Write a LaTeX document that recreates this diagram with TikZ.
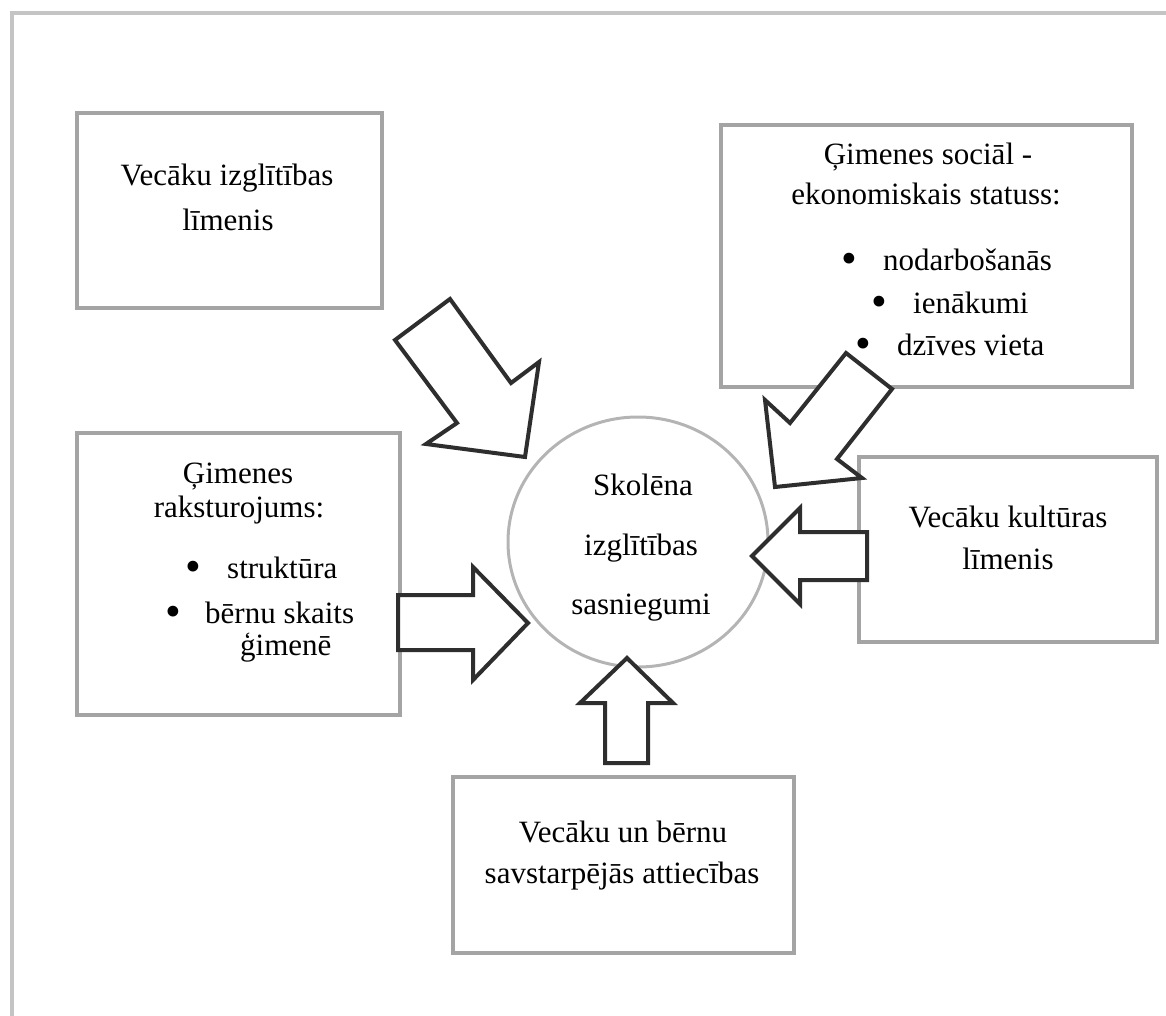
\documentclass[tikz,border=0pt]{standalone}
\usepackage{fontspec}
\setmainfont{Liberation Serif}
\definecolor{boxgray}{HTML}{A4A4A4}
\definecolor{framegray}{HTML}{C4C4C4}
\definecolor{circgray}{HTML}{B4B4B4}
\definecolor{arrowdark}{HTML}{2E2E2E}
\usetikzlibrary{shapes.geometric}
\newcommand{\bigbul}{\scalebox{1.45}{\textbullet}}
\begin{document}
\begin{tikzpicture}[x=1pt,y=-1pt,
  box/.style={draw=boxgray, line width=4pt, rectangle, inner sep=0pt},
  txt/.style={inner sep=0pt, anchor=base, font=\fontsize{31}{37}\selectfont},
  ltxt/.style={inner sep=0pt, anchor=base west, font=\fontsize{31}{37}\selectfont},
  bul/.style={inner sep=0pt, anchor=west, font=\fontsize{31}{37}\selectfont},
  blockarrow/.style={draw=arrowdark, line width=4pt, fill=white, line join=miter}
]
\path[use as bounding box] (0,0) rectangle (1166,1016);
\draw[framegray, line width=4pt] (1172,13) -- (12,13) -- (12,1022);

% centre
\node[ellipse, draw=circgray, line width=3pt, minimum width=260, minimum height=250] (centre) at (638,542) {};
\node[txt] (c1) at (643,495) {Skolēna};
\node[txt] (c2) at (641,555) {izglītības};
\node[txt] (c3) at (641,614) {sasniegumi};

% boxes
\node[box, minimum width=305, minimum height=195] (edu) at (229.5,210.5) {};
\node[txt] (edu1) at (227,186) {Vecāku izglītības};
\node[txt] (edu2) at (228,230) {līmenis};

\node[box, minimum width=411, minimum height=262] (ses) at (926.5,256) {};
\node[txt] (ses1) at (928,165) {Ģimenes sociāl -};
\node[txt] (ses2) at (926,205) {ekonomiskais statuss:};
\node[bul] (sesb1) at (841,263) {\bigbul};
\node[ltxt] (sest1) at (883,270) {nodarbošanās};
\node[bul] (sesb2) at (871,306) {\bigbul};
\node[ltxt] (sest2) at (913,313) {ienākumi};
\node[bul] (sesb3) at (855,348) {\bigbul};
\node[ltxt] (sest3) at (897,355) {dzīves vieta};

\node[box, minimum width=323, minimum height=282] (fam) at (238.5,574) {};
\node[txt] (fam1) at (238,483) {Ģimenes};
\node[txt] (fam2) at (239,517) {raksturojums:};
\node[bul] (famb1) at (185,571) {\bigbul};
\node[ltxt] (famt1) at (227,578) {struktūra};
\node[bul] (famb2) at (165,616) {\bigbul};
\node[ltxt] (famt2) at (205,623) {bērnu skaits};
\node[ltxt] (famt3) at (240,655) {ģimenē};

\node[box, minimum width=341, minimum height=176] (rel) at (623.5,865) {};
\node[txt] (rel1) at (623,842) {Vecāku un bērnu};
\node[txt] (rel2) at (622,883) {savstarpējās attiecības};

\node[box, minimum width=298, minimum height=185] (cul) at (1008,549.5) {};
\node[txt] (cul1) at (1008,527) {Vecāku kultūras};
\node[txt] (cul2) at (1008,569) {līmenis};

% block arrows
\draw[blockarrow] (395,340) -- (450,299) -- (511,383) -- (539,362) -- (525,457) -- (426,444) -- (457,423) -- cycle;
\draw[blockarrow] (846,353) -- (892,389) -- (837,459) -- (862,478) -- (775,487) -- (765,400) -- (790,423) -- cycle;
\draw[blockarrow] (398,595) -- (473,595) -- (473,567) -- (528,623) -- (473,680) -- (473,650) -- (398,650) -- cycle;
\draw[blockarrow] (867,532) -- (800,532) -- (800,508) -- (752,556) -- (800,604) -- (800,580) -- (867,580) -- cycle;
\draw[blockarrow] (627,658) -- (673,703) -- (648,703) -- (648,763) -- (605,763) -- (605,703) -- (580,703) -- cycle;
\end{tikzpicture}
\end{document}
